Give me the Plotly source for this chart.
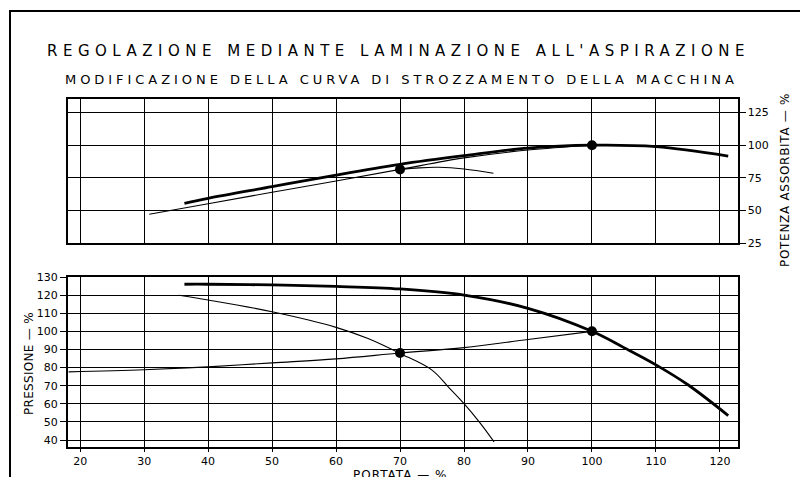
import plotly.graph_objects as go

# ---------------- data ----------------
# Lower panel: pressure (%) vs flow (%)
flow_design = [36.3, 40, 50, 60, 70, 80, 90, 100, 105, 110, 115, 121.3]
press_design = [126, 126, 125.6, 124.8, 123.4, 120, 112.7, 100, 91, 81.5, 70.5, 53.5]

flow_throttled = [35.4, 40, 50, 60, 65, 70, 75, 77.5, 80, 82.5, 84.7]
press_throttled = [119.9, 117.3, 110.8, 102.2, 96, 87.8, 78.6, 69.5, 60.1, 49.5, 39]

flow_system = [18.2, 30, 40, 50, 60, 70, 80, 90, 100]
press_system = [77.6, 78.8, 80.4, 82.6, 84.8, 88, 91, 95.5, 100]

press_points_x = [70, 100]
press_points_y = [88, 100]

# Upper panel: absorbed power (%) vs flow (%)
flow_pw_design = [36.3, 40, 50, 60, 70, 80, 90, 100, 110, 121.3]
pw_design = [55.6, 59.4, 68.3, 77.2, 85.4, 92, 97.8, 100, 98.9, 91.7]

flow_pw_thr = [30.8, 40, 50, 60, 70, 80, 90, 100]
pw_thr = [47.2, 55.2, 64, 72.6, 81.5, 90.3, 96.3, 100]

flow_pw_branch = [70, 73, 76, 80, 84.6]
pw_branch = [81.5, 82.7, 83.1, 81.8, 78.5]

power_points_x = [70, 100]
power_points_y = [81.5, 100]

x_ticks = [20, 30, 40, 50, 60, 70, 80, 90, 100, 110, 120]
press_ticks = [40, 50, 60, 70, 80, 90, 100, 110, 120, 130]
power_ticks = [25, 50, 75, 100, 125]

title_text = "REGOLAZIONE MEDIANTE LAMINAZIONE ALL'ASPIRAZIONE"
subtitle_text = "MODIFICAZIONE DELLA CURVA DI STROZZAMENTO DELLA MACCHINA"
press_title = "PRESSIONE — %"
power_title = "POTENZA ASSORBITA — %"
flow_title = "PORTATA — %"

# ---------------- figure ----------------
W, H = 800, 477
FONT = "DejaVu Sans"
THICK = 2.8
THIN = 1.1

fig = go.Figure()

def line(x, y, w, ax):
    fig.add_trace(go.Scatter(x=x, y=y, mode="lines", line=dict(color="black", width=w, shape="spline"),
                             xaxis=ax[0], yaxis=ax[1], showlegend=False, hoverinfo="skip"))

def dots(x, y, ax):
    fig.add_trace(go.Scatter(x=x, y=y, mode="markers", marker=dict(color="black", size=10),
                             xaxis=ax[0], yaxis=ax[1], showlegend=False, hoverinfo="skip"))

up = ("x", "y")
lo = ("x2", "y2")

line(flow_pw_thr, pw_thr, THIN, up)
line(flow_pw_branch, pw_branch, THIN, up)
line(flow_pw_design, pw_design, THICK, up)
dots(power_points_x, power_points_y, up)

line(flow_system, press_system, THIN, lo)
line(flow_throttled, press_throttled, THIN, lo)
line(flow_design, press_design, THICK, lo)
dots(press_points_x, press_points_y, lo)

xdom = [68 / W, 737.5 / W]
xr = [18.1, 122.75]
tickfont = dict(family=FONT, size=11, color="black")

common_x = dict(range=xr, domain=xdom, tickvals=x_ticks, showgrid=True, gridcolor="black", gridwidth=1,
                zeroline=False, showline=True, linecolor="black", linewidth=2, mirror=True,
                fixedrange=True, automargin=False)

fig.update_layout(
    template="none",
    width=W, height=H, autosize=False,
    margin=dict(l=0, r=0, t=0, b=0, pad=0, autoexpand=False),
    paper_bgcolor="white", plot_bgcolor="white",
    showlegend=False,
    xaxis=dict(**common_x, anchor="y", showticklabels=False, ticks=""),
    yaxis=dict(range=[25, 135.1], domain=[1 - 243.3 / H, 1 - 99.3 / H], side="right", anchor="x",
               tickvals=power_ticks, ticks="outside", ticklen=6, tickcolor="black", automargin=False,
               showgrid=True, gridcolor="black", gridwidth=1, zeroline=False, fixedrange=True,
               showline=True, linecolor="black", linewidth=2, mirror=True, tickfont=tickfont),
    xaxis2=dict(**common_x, anchor="y2", ticks="outside", ticklen=3, tickcolor="black",
                tickfont=tickfont),
    yaxis2=dict(range=[36.3, 130], domain=[1 - 446.7 / H, 1 - 277 / H], anchor="x2",
                tickvals=press_ticks, ticks="outside", ticklen=6, tickcolor="black", automargin=False,
                showgrid=True, gridcolor="black", gridwidth=1, zeroline=False, fixedrange=True,
                showline=True, linecolor="black", linewidth=2, mirror=True, tickfont=tickfont),
)

def ann(text, px, py, size, spacing, angle=0):
    fig.add_annotation(text=f'<span style="letter-spacing:{spacing}px">{text}</span>',
                       x=px / W, y=1 - py / H, xref="paper", yref="paper",
                       showarrow=False, textangle=angle,
                       font=dict(family=FONT, size=size, color="black"),
                       xanchor="center", yanchor="middle")

ann(title_text, 398, 51, 15, 5.5)
ann(subtitle_text, 402, 79, 13, 3.95)
ann(press_title, 29, 363, 12, 0.3, -90)
ann(power_title, 785, 180, 12, 0.7, -90)
ann(flow_title, 400, 475, 12, 1.0)

# outer drawing frame (right and bottom edges fall outside the picture)
fig.add_shape(type="rect", xref="paper", yref="paper",
              x0=10 / W, x1=1.03, y0=-0.03, y1=1 - 11 / H,
              line=dict(color="black", width=2))

fig.write_html("out.html",
               config={"displayModeBar": False},
               post_script="document.body.style.margin='0';document.body.style.overflow='hidden';")
